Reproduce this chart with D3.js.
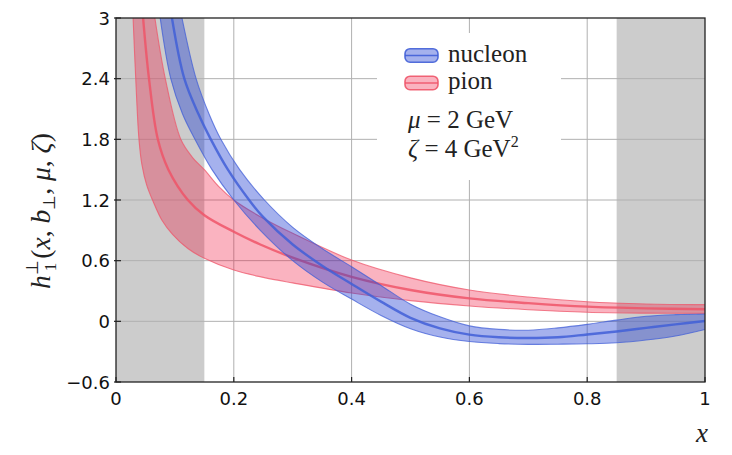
<!DOCTYPE html>
<html><head><meta charset="utf-8">
<script src="https://cdn.jsdelivr.net/npm/d3@7"></script>
<style>body{margin:0;background:#fff}</style>
</head><body>
<svg id="c" width="732" height="455"></svg>
<script>
// ---- data ----
const xTicks = [0, 0.2, 0.4, 0.6, 0.8, 1];
const xTickLabels = ["0", "0.2", "0.4", "0.6", "0.8", "1"];
const yTicks = [-0.6, 0, 0.6, 1.2, 1.8, 2.4, 3];
const yTickLabels = ["\u22120.6", "0", "0.6", "1.2", "1.8", "2.4", "3"];
const shadedRanges = [[0, 0.15], [0.85, 1]];

const pionLower = [[0.029,3.0],[0.0335,2.4],[0.039,1.8],[0.044,1.55],[0.052,1.35],[0.062,1.2],[0.078,1.0],[0.096,0.86],[0.122,0.72],[0.15,0.623],[0.2,0.507],[0.25,0.435],[0.3,0.38],[0.4,0.28],[0.5,0.205],[0.6,0.152],[0.7,0.115],[0.8,0.09],[0.9,0.081],[1.0,0.079]];
const pionCentral = [[0.046,3.0],[0.056,2.4],[0.071,1.8],[0.089,1.5],[0.122,1.2],[0.15,1.05],[0.2,0.886],[0.245,0.76],[0.3,0.63],[0.4,0.44],[0.5,0.31],[0.6,0.227],[0.7,0.18],[0.8,0.145],[0.9,0.128],[1.0,0.12]];
const pionUpper = [[0.066,3.0],[0.0837,2.4],[0.11,1.8],[0.13,1.62],[0.15,1.5],[0.175,1.33],[0.2,1.2],[0.245,1.035],[0.3,0.87],[0.4,0.606],[0.5,0.43],[0.6,0.31],[0.7,0.24],[0.8,0.194],[0.9,0.172],[1.0,0.165]];

const nucleonLower = [[0.075,3.0],[0.093,2.4],[0.113,2.05],[0.134,1.8],[0.163,1.5],[0.2,1.2],[0.245,0.9],[0.3,0.6],[0.35,0.39],[0.4,0.22],[0.45,0.058],[0.5,-0.073],[0.55,-0.155],[0.6,-0.2],[0.65,-0.22],[0.7,-0.228],[0.75,-0.226],[0.8,-0.222],[0.85,-0.212],[0.9,-0.185],[0.95,-0.145],[1.0,-0.08]];
const nucleonCentral = [[0.095,3.0],[0.116,2.4],[0.14,2.05],[0.161,1.8],[0.19,1.5],[0.226,1.2],[0.25,1.03],[0.3,0.76],[0.35,0.55],[0.4,0.37],[0.45,0.195],[0.5,0.035],[0.55,-0.07],[0.6,-0.132],[0.65,-0.158],[0.7,-0.165],[0.75,-0.158],[0.8,-0.13],[0.85,-0.10],[0.9,-0.065],[0.95,-0.03],[1.0,0.003]];
const nucleonUpper = [[0.112,3.0],[0.136,2.4],[0.158,2.05],[0.178,1.8],[0.21,1.5],[0.252,1.2],[0.3,0.93],[0.35,0.72],[0.4,0.54],[0.45,0.355],[0.5,0.17],[0.55,0.045],[0.6,-0.045],[0.65,-0.08],[0.7,-0.088],[0.75,-0.065],[0.8,-0.03],[0.85,0.012],[0.9,0.05],[0.95,0.066],[1.0,0.072]];

const legendLabels = ["nucleon", "pion"];

// ---- layout ----
const L = 116, R = 705, T = 18, B = 382;
const svg = d3.select("#c");
const x = d3.scaleLinear().domain([0, 1]).range([L, R]);
const y = d3.scaleLinear().domain([-0.6, 3]).range([B, T]);

svg.append("rect").attr("width", 732).attr("height", 455).attr("fill", "#fff");
svg.append("defs").append("clipPath").attr("id", "clip")
  .append("rect").attr("x", L).attr("y", T).attr("width", R - L).attr("height", B - T);

// shaded regions
svg.selectAll(".shade").data(shadedRanges).join("rect")
  .attr("x", d => x(d[0])).attr("width", d => x(d[1]) - x(d[0]))
  .attr("y", T).attr("height", B - T).attr("fill", "#cccccc");

// grid
const g = svg.append("g");
g.selectAll(".gx").data(xTicks.slice(1, -1)).join("line")
  .attr("x1", d => x(d)).attr("x2", d => x(d)).attr("y1", T).attr("y2", B)
  .attr("stroke", "#b0b0b0").attr("stroke-width", 1);
g.selectAll(".gy").data(yTicks.slice(1, -1)).join("line")
  .attr("y1", d => y(d)).attr("y2", d => y(d)).attr("x1", L).attr("x2", R)
  .attr("stroke", "#b0b0b0").attr("stroke-width", 1);

// bands
const line = d3.line().x(d => x(d[0])).y(d => y(d[1])).curve(d3.curveCatmullRom.alpha(0.5));
function bandPath(up, low) {
  const a = line(up);
  const b = line(low.slice().reverse());
  return a + "L" + b.slice(1) + "Z";
}
const plot = svg.append("g").attr("clip-path", "url(#clip)");
const series = [
  {up: pionUpper, mid: pionCentral, low: pionLower, fill: "rgb(240,20,60)", fo: 0.32, stroke: "rgb(238,85,105)"},
  {up: nucleonUpper, mid: nucleonCentral, low: nucleonLower, fill: "rgb(30,60,210)", fo: 0.4, stroke: "rgb(65,95,215)"}
];
series.forEach(s => {
  plot.append("path").attr("d", bandPath(s.up, s.low)).attr("fill", s.fill).attr("fill-opacity", s.fo);
  [s.up, s.low].forEach(e => plot.append("path").attr("d", line(e)).attr("fill", "none")
    .attr("stroke", s.stroke).attr("stroke-width", 1.1).attr("stroke-opacity", 0.75));
  plot.append("path").attr("d", line(s.mid)).attr("fill", "none")
    .attr("stroke", s.stroke).attr("stroke-width", 2.4).attr("stroke-opacity", 0.85);
});

// spines
svg.append("rect").attr("x", L).attr("y", T).attr("width", R - L).attr("height", B - T)
  .attr("fill", "none").attr("stroke", "#222").attr("stroke-width", 1.3);

// ticks
svg.selectAll(".tx").data(xTicks).join("line")
  .attr("x1", d => x(d)).attr("x2", d => x(d)).attr("y1", B).attr("y2", B - 5)
  .attr("stroke", "#222").attr("stroke-width", 1.2);
svg.selectAll(".ty").data(yTicks).join("line")
  .attr("y1", d => y(d)).attr("y2", d => y(d)).attr("x1", L - 2).attr("x2", L + 5)
  .attr("stroke", "#222").attr("stroke-width", 1.2);

// tick labels
svg.selectAll(".lx").data(xTicks).join("text")
  .attr("x", d => x(d)).attr("y", 405).attr("text-anchor", "middle")
  .attr("font-family", "DejaVu Sans").attr("font-size", 18).attr("fill", "#111")
  .text((d, i) => xTickLabels[i]);
svg.selectAll(".ly").data(yTicks).join("text")
  .attr("x", 110).attr("y", d => y(d) + 6.5).attr("text-anchor", "end")
  .attr("font-family", "DejaVu Sans").attr("font-size", 18).attr("fill", "#111")
  .text((d, i) => yTickLabels[i]);

// axis labels
const serif = "Liberation Serif";
svg.append("text").attr("x", 702).attr("y", 442).attr("text-anchor", "middle")
  .attr("font-family", serif).attr("font-style", "italic").attr("font-size", 27).attr("fill", "#222").text("x");

const yl = svg.append("text").attr("transform", "translate(50,211) rotate(-90)")
  .attr("text-anchor", "middle").attr("font-family", serif).attr("font-size", 27.5).attr("fill", "#222");
yl.append("tspan").attr("font-style", "italic").text("h");
yl.append("tspan").attr("font-size", 17).attr("dy", -12).text("\u22A5");
yl.append("tspan").attr("font-size", 17).attr("dx", -11).attr("dy", 18).text("1");
yl.append("tspan").attr("dx", 4).attr("dy", -6).text("(");
yl.append("tspan").attr("font-style", "italic").text("x");
yl.append("tspan").text(", ");
yl.append("tspan").attr("font-style", "italic").text("b");
yl.append("tspan").attr("font-size", 17).attr("dy", 5).text("\u22A5");
yl.append("tspan").attr("dy", -5).text(", ");
yl.append("tspan").attr("font-style", "italic").text("\u03BC");
yl.append("tspan").text(", ");
yl.append("tspan").attr("font-style", "italic").text("\u03B6");
yl.append("tspan").text(")");

// legend
svg.append("rect").attr("x", 377).attr("y", 33).attr("width", 184).attr("height", 147).attr("fill", "#fff");
const legY = [48.7, 76.2];
[1, 0].forEach((si, k) => {
  const s = series[si];
  const yy = legY[k];
  svg.append("rect").attr("x", 405).attr("y", yy).attr("width", 33).attr("height", 13.5).attr("rx", 5)
    .attr("fill", s.fill).attr("fill-opacity", s.fo).attr("stroke", s.stroke).attr("stroke-width", 1.6).attr("stroke-opacity", 0.9);
  svg.append("line").attr("x1", 405).attr("x2", 438).attr("y1", yy + 6.75).attr("y2", yy + 6.75)
    .attr("stroke", s.stroke).attr("stroke-width", 1.6).attr("stroke-opacity", 0.9);
  svg.append("text").attr("x", 448).attr("y", yy + 12.8).attr("font-family", serif).attr("font-size", 25)
    .attr("fill", "#222").text(legendLabels[k]);
});
const t1 = svg.append("text").attr("x", 408).attr("y", 128).attr("font-family", serif).attr("font-size", 25).attr("fill", "#222");
t1.append("tspan").attr("font-style", "italic").text("\u03BC");
t1.append("tspan").text(" = 2 GeV");
const t2 = svg.append("text").attr("x", 408).attr("y", 157).attr("font-family", serif).attr("font-size", 25).attr("fill", "#222");
t2.append("tspan").attr("font-style", "italic").text("\u03B6");
t2.append("tspan").text(" = 4 GeV");
t2.append("tspan").attr("font-size", 16).attr("dy", -10).text("2");
</script>
</body></html>
